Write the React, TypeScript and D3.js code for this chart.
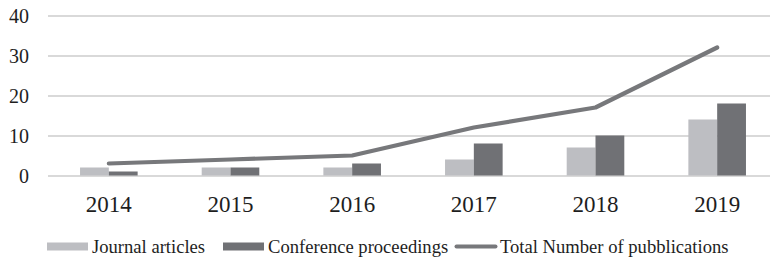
import React, { useEffect, useRef } from 'react';
import { select, scaleBand, scaleLinear, axisLeft, axisBottom, line } from 'd3';

const years = ['2014', '2015', '2016', '2017', '2018', '2019'];
const journalArticles = [2, 2, 2, 4, 7, 14];
const conferenceProceedings = [1, 2, 3, 8, 10, 18];
const totalPublications = [3, 4, 5, 12, 17, 32];
const yTicks = [0, 10, 20, 30, 40];
const seriesNames = ['Journal articles', 'Conference proceedings', 'Total Number of pubblications'];

const LIGHT = '#bdbec2';
const DARK = '#707175';
const LINE = '#77787b';
const GRID = '#d9d9d9';
const FONT = '"Liberation Serif", "Times New Roman", serif';

const drawChart = (node: SVGSVGElement) => {
  const width = 770;
  const height = 258;
  const svg = select(node).attr('width', width).attr('height', height);
  svg.selectAll('*').remove();

  const plot = { left: 48, right: 778, top: 15.5, bottom: 175.5 };

  const x = scaleBand<string>().domain(years).range([plot.left, plot.right]);
  const y = scaleLinear().domain([0, 40]).range([plot.bottom, plot.top]);

  // grid + y labels
  const yAxis = axisLeft(y).tickValues(yTicks).tickSize(-(plot.right - plot.left)).tickPadding(19);
  const gy = svg.append('g').attr('transform', `translate(${plot.left},0)`).call(yAxis);
  gy.select('.domain').remove();
  gy.selectAll('.tick line').attr('stroke', GRID).attr('stroke-width', 2);
  gy.selectAll('.tick text')
    .attr('fill', '#1e1e1e')
    .attr('font-family', FONT)
    .attr('font-size', 20)
    .attr('dy', '0.34em');

  // bars
  const barW = 28.8;
  const bars = [
    { values: journalArticles, color: LIGHT, offset: -barW },
    { values: conferenceProceedings, color: DARK, offset: 0 }
  ];
  bars.forEach(s => {
    svg.append('g')
      .selectAll('rect')
      .data(s.values)
      .enter()
      .append('rect')
      .attr('x', (d, i) => (x(years[i]) as number) + x.bandwidth() / 2 + s.offset)
      .attr('y', d => y(d))
      .attr('width', barW)
      .attr('height', d => y(0) - y(d))
      .attr('fill', s.color);
  });

  // total line
  const path = line<number>()
    .x((d, i) => (x(years[i]) as number) + x.bandwidth() / 2)
    .y(d => y(d));
  svg.append('path')
    .datum(totalPublications)
    .attr('d', path)
    .attr('fill', 'none')
    .attr('stroke', LINE)
    .attr('stroke-width', 4.2)
    .attr('stroke-linecap', 'round')
    .attr('stroke-linejoin', 'round');

  // x labels
  const xAxis = axisBottom(x).tickSize(0).tickPadding(0);
  const gx = svg.append('g').attr('transform', `translate(0,${plot.bottom})`).call(xAxis);
  gx.select('.domain').remove();
  gx.selectAll('.tick text')
    .attr('fill', '#1e1e1e')
    .attr('font-family', FONT)
    .attr('font-size', 23)
    .attr('y', 36)
    .attr('dy', 0);

  // legend
  const legendY = 246.5;
  const items = [
    { name: seriesNames[0], type: 'rect', color: LIGHT, x: 47 },
    { name: seriesNames[1], type: 'rect', color: DARK, x: 223 },
    { name: seriesNames[2], type: 'line', color: LINE, x: 455 }
  ];
  const lg = svg.append('g')
    .selectAll('g')
    .data(items)
    .enter()
    .append('g')
    .attr('transform', d => `translate(${d.x},${legendY})`);
  lg.filter(d => d.type === 'rect')
    .append('rect')
    .attr('x', 0)
    .attr('y', -4)
    .attr('width', 41)
    .attr('height', 8)
    .attr('fill', d => d.color);
  lg.filter(d => d.type === 'line')
    .append('line')
    .attr('x1', 1.5)
    .attr('x2', 40.5)
    .attr('y1', 0)
    .attr('y2', 0)
    .attr('stroke', d => d.color)
    .attr('stroke-width', 4)
    .attr('stroke-linecap', 'round');
  lg.append('text')
    .attr('x', 45)
    .attr('y', 6.5)
    .attr('fill', '#1e1e1e')
    .attr('font-family', FONT)
    .attr('font-size', 18.6)
    .text(d => d.name);
};

export default function App() {
  const ref = useRef<SVGSVGElement>(null);
  useEffect(() => {
    if (ref.current) drawChart(ref.current);
  }, []);
  return (
    <div style={{ position: 'absolute', left: 0, top: 0, width: 770, height: 258, overflow: 'hidden', background: '#fff' }}>
      <svg ref={ref} style={{ display: 'block' }} />
    </div>
  );
}
